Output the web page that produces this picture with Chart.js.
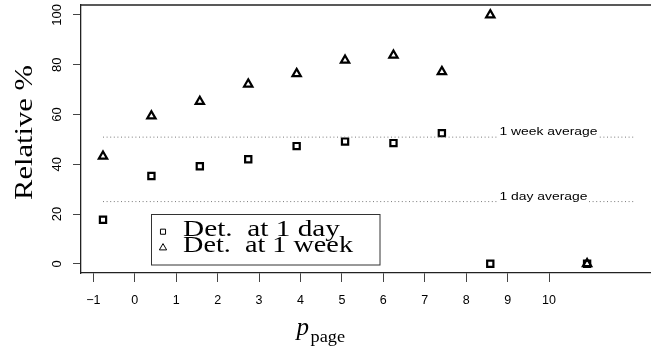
<!DOCTYPE html>
<html>
<head>
<meta charset="utf-8">
<script src="https://cdn.jsdelivr.net/npm/chart.js@4.4.1/dist/chart.umd.min.js"></script>
<style>
  html, body { margin: 0; padding: 0; background: #fff; }
  #wrap { width: 651px; height: 348px; }
</style>
</head>
<body>
<div id="wrap"><canvas id="chart" width="651" height="348"></canvas></div>
<script>
// Valores
const pagePos = [-1, 0, 1, 2, 3, 4, 5, 6, 7, 9];
const detDay  = [17.7, 35.3, 39.2, 42.0, 47.3, 49.1, 48.5, 52.5, 0, 0];
const detWeek = [43.2, 59.4, 65.2, 72.2, 76.4, 81.8, 83.8, 77.2, 100, 0];
const dayAverage = 25.0;
const weekAverage = 50.9;
const averageSpan = [-1, 10];
const xTickVals = [-1, 0, 1, 2, 3, 4, 5, 6, 7, 8, 9, 10];
const yTickVals = [0, 20, 40, 60, 80, 100];
const legendLabels = ['Det.  at 1 day', 'Det.  at 1 week'];
const averageLabels = ['1 day average', '1 week average'];
const yTitle = 'Relative %';

const SERIF = '"Liberation Serif", "DejaVu Serif", serif';
const SANS = '"Liberation Sans", Arial, sans-serif';

function toPoints(xs, ys) {
    return xs.map((x, i) => ({ x: x, y: ys[i] }));
}

// texto ajustado a un ancho dado (la fuente original es más ancha)
function fitText(ctx, text, x, y, font, width) {
    ctx.save();
    ctx.font = font;
    const w = ctx.measureText(text).width;
    ctx.translate(x, y);
    ctx.scale(width / w, 1);
    ctx.textAlign = 'left';
    ctx.textBaseline = 'alphabetic';
    ctx.fillText(text, 0, 0);
    ctx.restore();
}

// sin relleno extra alrededor de los ejes: el área queda donde la fijamos
function noPadding(s) {
    s.paddingLeft = 0;
    s.paddingRight = 0;
    s.paddingTop = 0;
    s.paddingBottom = 0;
}

const extras = {
    id: 'extras',
    afterDatasetsDraw(chart) {
        const ctx = chart.ctx;
        const area = chart.chartArea;
        const xd = chart.scales.xd;
        const y = chart.scales.y;
        ctx.save();
        ctx.fillStyle = '#000';

        // borde superior del cuadro
        ctx.strokeStyle = '#222';
        ctx.lineWidth = 1.3;
        ctx.beginPath();
        ctx.moveTo(area.left, area.top);
        ctx.lineTo(area.right, area.top);
        ctx.stroke();

        // etiquetas de promedios
        const avgs = [dayAverage, weekAverage];
        const widths = [88, 98];
        const lx = xd.getPixelForValue(7.19);
        avgs.forEach((v, i) => {
            const py = y.getPixelForValue(v);
            ctx.fillStyle = '#fff';
            ctx.fillRect(lx - 1, py - 12, widths[i] + 2, 14);
            ctx.fillStyle = '#000';
            fitText(ctx, averageLabels[i], lx, py - 1.8, '11.7px ' + SANS, widths[i]);
        });

        // leyenda
        ctx.fillStyle = '#fff';
        ctx.fillRect(151.5, 214, 228.5, 51);
        ctx.strokeStyle = '#333';
        ctx.lineWidth = 1;
        ctx.strokeRect(151.5, 214.5, 228.5, 50.5);
        const styles = ['rect', 'triangle'];
        const radii = [3.6, 4.2];
        const symY = [231.7, 247.8];
        const textY = [236.2, 252];
        const textW = [157, 170];
        styles.forEach((s, i) => {
            ctx.fillStyle = '#fff';
            ctx.strokeStyle = '#000';
            ctx.lineWidth = 1;
            Chart.helpers.drawPoint(ctx, {
                pointStyle: s, radius: radii[i], borderWidth: 1, rotation: 0
            }, 163, symY[i]);
            ctx.fillStyle = '#000';
            fitText(ctx, legendLabels[i], 183, textY[i], '22.5px ' + SERIF, textW[i]);
        });

        // título eje y
        ctx.save();
        ctx.font = '26px ' + SERIF;
        const tw = ctx.measureText(yTitle).width;
        ctx.translate(32, 132.5);
        ctx.rotate(-Math.PI / 2);
        ctx.scale(135 / tw, 1);
        ctx.textAlign = 'center';
        ctx.textBaseline = 'alphabetic';
        ctx.fillText(yTitle, 0, 0);
        ctx.restore();

        // título eje x: p_page
        ctx.save();
        ctx.font = 'italic 25px ' + SERIF;
        ctx.textBaseline = 'alphabetic';
        ctx.fillText('p', 296.5, 335);
        ctx.restore();
        fitText(ctx, 'page', 310.5, 342, '16.5px ' + SERIF, 34.5);

        ctx.restore();
    }
};

const markerStyle = {
    borderColor: '#000',
    backgroundColor: 'rgba(0,0,0,0)',
    borderWidth: 2.2,
    showLine: false,
    xAxisID: 'xd',
    yAxisID: 'y'
};

const avgStyle = {
    type: 'line',
    borderColor: '#7a7a7a',
    borderWidth: 1,
    borderDash: [1, 2.6],
    pointRadius: 0,
    fill: false,
    xAxisID: 'xd',
    yAxisID: 'y'
};

new Chart(document.getElementById('chart'), {
    type: 'scatter',
    data: {
        datasets: [
            Object.assign({}, avgStyle, { label: averageLabels[1], data: toPoints(averageSpan, [weekAverage, weekAverage]) }),
            Object.assign({}, avgStyle, { label: averageLabels[0], data: toPoints(averageSpan, [dayAverage, dayAverage]) }),
            Object.assign({}, markerStyle, { label: legendLabels[0], data: toPoints(pagePos, detDay), pointStyle: 'rect', pointRadius: 4.4 }),
            Object.assign({}, markerStyle, { label: legendLabels[1], data: toPoints(pagePos, detWeek), pointStyle: 'triangle', pointRadius: 4.8 })
        ]
    },
    options: {
        responsive: false,
        animation: false,
        layout: { autoPadding: false, padding: { left: 0, right: 0, top: 5, bottom: 0 } },
        plugins: {
            legend: { display: false },
            tooltip: { enabled: false }
        },
        scales: {
            xd: {
                type: 'linear',
                display: false,
                min: -1.4545,
                max: 10.32
            },
            x: {
                type: 'linear',
                position: 'bottom',
                min: -1.297,
                max: 12.46,
                afterBuildTicks: s => { s.ticks = xTickVals.map(v => ({ value: v })); },
                afterFit: s => { s.height = 75; noPadding(s); },
                grid: { drawOnChartArea: false, drawTicks: true, tickLength: 9, color: '#444', lineWidth: 1 },
                border: { display: true, color: '#222', width: 1.3 },
                ticks: {
                    autoSkip: false,
                    maxRotation: 0,
                    padding: 11,
                    color: '#000',
                    font: { family: SANS, size: 12.5 },
                    callback: v => String(v).replace('-', '\u2212')
                }
            },
            y: {
                type: 'linear',
                min: -3.7,
                max: 104,
                afterBuildTicks: s => { s.ticks = yTickVals.map(v => ({ value: v })); },
                afterFit: s => { s.width = 81; noPadding(s); },
                grid: { drawOnChartArea: false, drawTicks: true, tickLength: 8, color: '#444', lineWidth: 1 },
                border: { display: true, color: '#222', width: 1.3 },
                ticks: {
                    minRotation: 90,
                    maxRotation: 90,
                    crossAlign: 'center',
                    padding: 5,
                    color: '#000',
                    font: { family: SANS, size: 13 }
                }
            }
        }
    },
    plugins: [extras]
});
</script>
</body>
</html>
